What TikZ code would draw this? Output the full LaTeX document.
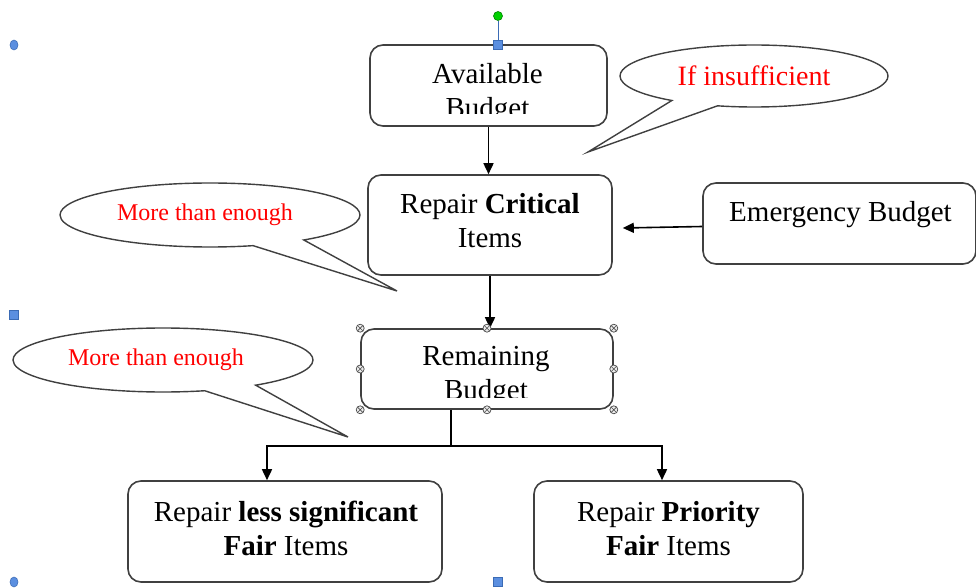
\documentclass[tikz,border=0pt]{standalone}
\usepackage{fontspec}
\setmainfont{Liberation Serif}
\usetikzlibrary{arrows.meta,shapes.geometric,shapes.callouts}

\definecolor{boxline}{HTML}{404040}
\definecolor{handleblue}{HTML}{5B8FE0}
\definecolor{handleedge}{HTML}{3B6BB5}
\definecolor{handlegreen}{HTML}{00D000}

\tikzset{
  box/.style={draw=boxline, line width=1.6pt, rounded corners=13pt, fill=white, inner sep=0pt},
  boxtext/.style={align=center, font=\fontsize{29}{34}\selectfont, inner sep=0pt},
  bubble/.style={ellipse callout, draw=boxline, line width=1.4pt, fill=white, text=red,
    inner sep=0pt, callout pointer arc=22},
  arr/.style={-{Triangle[length=11pt,width=10pt]}, line width=1.6pt},
  xhandle/.style={circle, draw=black!70, fill=white!85!gray, minimum size=8pt, inner sep=0pt,
    line width=0.7pt, path picture={
      \draw[black!70, line width=0.6pt]
        (path picture bounding box.north west) -- (path picture bounding box.south east)
        (path picture bounding box.north east) -- (path picture bounding box.south west);}},
  sqhandle/.style={rectangle, draw=handleedge, fill=handleblue, minimum size=9pt, inner sep=0pt, line width=0.8pt},
  dothandle/.style={ellipse, draw=handleedge, fill=handleblue, minimum width=8pt, minimum height=10pt,
    inner sep=0pt, line width=0.6pt},
  rothandle/.style={circle, draw=green!50!black, fill=handlegreen, minimum size=9pt, inner sep=0pt, line width=0.6pt}
}

\begin{document}
\begin{tikzpicture}[x=1pt, y=-1pt]
    \useasboundingbox (0,0) rectangle (976,588);

    % speech bubbles
    \node[bubble, minimum width=268pt, minimum height=62pt, font=\fontsize{28}{30}\selectfont,
      callout absolute pointer={(588,152)}] (insuf) at (754,76) {If insufficient};
    \node[bubble, minimum width=300pt, minimum height=64pt, font=\fontsize{24}{28}\selectfont,
      callout absolute pointer={(397,291)}] (enoughtop) at (210,215) {More than enough\kern10pt};
    \node[bubble, minimum width=300pt, minimum height=64pt, font=\fontsize{24}{28}\selectfont,
      callout absolute pointer={(348,437)}] (enoughlow) at (163,360) {More than enough\kern14pt};

    % available budget (text cut off by the box margin)
    \node[box, minimum width=237pt, minimum height=81pt] (avail) at (488.5,85.5) {};
    \begin{scope}
        \clip (avail.north west) rectangle ([yshift=13pt]avail.south east);
        \node[boxtext] (availtxt) at (487.5,93.5) {Available\\Budget};
    \end{scope}

    % critical items
    \node[box, minimum width=244pt, minimum height=100pt] (crit) at (490,225) {};
    \node[boxtext] (crittxt) at (490,221) {Repair \textbf{Critical}\\Items};

    % emergency budget
    \node[box, minimum width=273pt, minimum height=81pt] (emerg) at (839.5,223.5) {};
    \node[boxtext, anchor=base] (emergtxt) at (840.5,221) {Emergency Budget};

    % remaining budget (text cut off by the box margin)
    \node[box, minimum width=252pt, minimum height=80pt] (remain) at (487,369) {};
    \begin{scope}
        \clip (remain.north west) rectangle ([yshift=12pt]remain.south east);
        \node[boxtext] (remaintxt) at (486,376.5) {Remaining\\Budget};
    \end{scope}

    % bottom row
    \node[box, minimum width=314pt, minimum height=101pt] (lessfair) at (285,531.5) {};
    \node[boxtext] (lessfairtxt) at (286,528.5) {Repair \textbf{less significant}\\\textbf{Fair} Items};
    \node[box, minimum width=269pt, minimum height=101pt] (prio) at (668.5,531.5) {};
    \node[boxtext] (priotxt) at (668.5,528.5) {Repair \textbf{Priority}\\\textbf{Fair} Items};

    % arrows
    \draw[arr] (avail.south) -- (avail.south |- crit.north);
    \draw[arr] ([yshift=-3pt]emerg.west) -- ([yshift=-3pt,xshift=10pt]crit.east);
    \draw[arr] (crit.south) -- (crit.south |- remain.north);

    % fork to the two repair boxes
    \coordinate (fork) at (451,446);
    \coordinate (forkl) at (267,446);
    \coordinate (forkr) at (662,446);
    \draw[line width=1.6pt] (remain.south -| fork) -- (fork);
    \draw[arr] (fork) -| (forkl |- lessfair.north);
    \draw[arr] (fork) -| (forkr |- prio.north);

    % selection handles
    \foreach \a [count=\i] in {north west, north, north east, west, east, south west, south, south east}
        \node[xhandle] (rh\i) at (remain.\a) {};
    \node[dothandle] (hnw) at (14,45) {};
    \node[sqhandle] (hw) at (14,315) {};
    \node[dothandle] (hsw) at (14,582) {};
    \node[sqhandle] (hs) at (498,582) {};
    \node[sqhandle] (hn) at (498,45) {};
    \node[rothandle] (hrot) at (498,16) {};
    \draw[handleedge, line width=0.8pt] (hrot) -- (hn);
\end{tikzpicture}
\end{document}
